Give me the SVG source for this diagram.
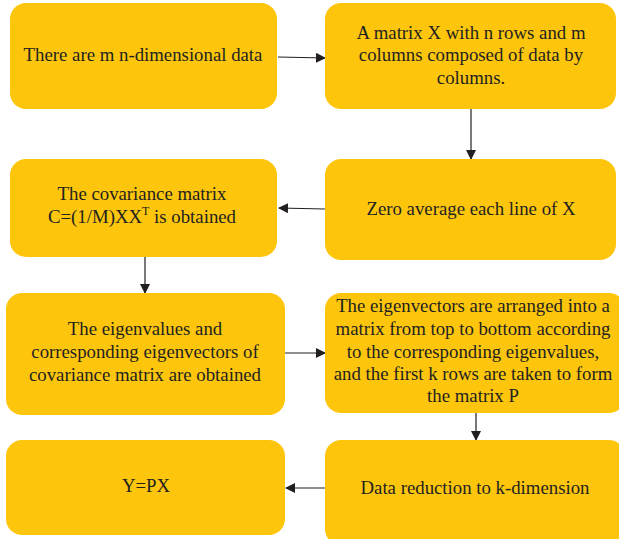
<svg xmlns="http://www.w3.org/2000/svg" width="619" height="539" viewBox="0 0 619 539">
  <style>
    .box { fill: #FDC60C; }
    .lbl { font-family: "Liberation Serif", "DejaVu Serif", serif; font-size: 18.8px; fill: #231F20; text-anchor: middle; }
    .sup { font-size: 12px; }
    .conn { stroke: #231F20; stroke-width: 1.2; fill: none; marker-end: url(#arrow); }
  </style>
  <defs>
    <marker id="arrow" viewBox="0 0 10 10" refX="9" refY="5" markerWidth="10" markerHeight="10" markerUnits="userSpaceOnUse" orient="auto">
      <path d="M0,0 L10,5 L0,10 z" fill="#231F20"/>
    </marker>
  </defs>

  <rect width="619" height="539" fill="#FFFFFF"/>

  <g id="connectors">
    <line class="conn" x1="278" y1="57" x2="325" y2="58"/>
    <line class="conn" x1="471" y1="109" x2="471" y2="159"/>
    <line class="conn" x1="325" y1="209" x2="279" y2="208"/>
    <line class="conn" x1="145" y1="257" x2="145" y2="293"/>
    <line class="conn" x1="285" y1="353" x2="325" y2="353"/>
    <line class="conn" x1="476" y1="413" x2="476" y2="440"/>
    <line class="conn" x1="325" y1="488" x2="286" y2="488"/>
  </g>

  <g id="node-data">
    <rect class="box" x="10" y="3" width="267" height="106" rx="16"/>
    <text class="lbl" x="143" y="61">There are m n-dimensional data</text>
  </g>

  <g id="node-matrix">
    <rect class="box" x="325" y="3" width="291" height="106" rx="16"/>
    <text class="lbl" x="471" y="39">A matrix X with n rows and m</text>
    <text class="lbl" x="471" y="61">columns composed of data by</text>
    <text class="lbl" x="471" y="84">columns.</text>
  </g>

  <g id="node-zero-mean">
    <rect class="box" x="325" y="159" width="291" height="101" rx="16"/>
    <text class="lbl" x="471" y="215">Zero average each line of X</text>
  </g>

  <g id="node-covariance">
    <rect class="box" x="10" y="159" width="267" height="98" rx="16"/>
    <text class="lbl" x="142" y="200">The covariance matrix</text>
    <text class="lbl" x="142" y="223">C=(1/M)XX<tspan class="sup" dy="-8">T</tspan><tspan dy="8"> is obtained</tspan></text>
  </g>

  <g id="node-eigen">
    <rect class="box" x="6" y="293" width="279" height="122" rx="16"/>
    <text class="lbl" x="145" y="335">The eigenvalues and</text>
    <text class="lbl" x="145" y="358">corresponding eigenvectors of</text>
    <text class="lbl" x="145" y="381">covariance matrix are obtained</text>
  </g>

  <g id="node-projection">
    <rect class="box" x="325" y="293" width="300" height="120" rx="16"/>
    <text class="lbl" x="473" y="312">The eigenvectors are arranged into a</text>
    <text class="lbl" x="473" y="335">matrix from top to bottom according</text>
    <text class="lbl" x="473" y="358">to the corresponding eigenvalues,</text>
    <text class="lbl" x="473" y="380">and the first k rows are taken to form</text>
    <text class="lbl" x="473" y="402">the matrix P</text>
  </g>

  <g id="node-reduce">
    <rect class="box" x="325" y="440" width="300" height="105" rx="16"/>
    <text class="lbl" x="475" y="494">Data reduction to k-dimension</text>
  </g>

  <g id="node-result">
    <rect class="box" x="6" y="440" width="279" height="95" rx="16"/>
    <text class="lbl" x="146" y="492">Y=PX</text>
  </g>
</svg>
